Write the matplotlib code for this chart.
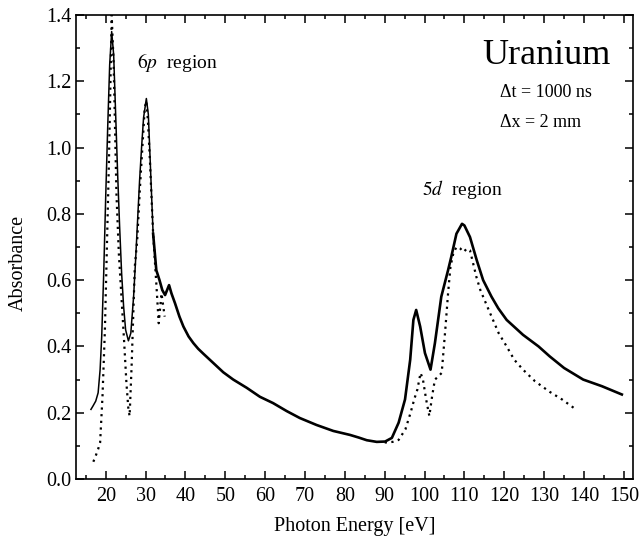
import matplotlib
matplotlib.use("Agg")
import matplotlib.pyplot as plt
from matplotlib.ticker import MultipleLocator

plt.rcParams['font.family'] = ['Liberation Serif', 'DejaVu Serif']
plt.rcParams['mathtext.fontset'] = 'stix'

# Solid curve (measured absorbance)
solid_x = [16.3, 16.8, 17.5, 18.1, 18.6, 19.0, 19.5, 20.0, 20.5, 21.0, 21.5, 22.0, 22.5, 23.0, 23.5,
           24.0, 24.5, 25.0, 25.7, 26.3, 27.0, 27.5, 28.0, 28.5, 29.0, 29.5, 30.2, 30.7, 31.2, 31.9,
           32.7, 33.5, 34.2, 34.9, 35.4, 35.9, 36.5, 37.4, 38.5, 39.5, 40.8, 42.0, 43.2, 44.5, 47.0, 49.5,
           52.0, 55.4, 58.7, 62.0, 65.4, 68.7, 72.9, 77.1, 81.3, 83.5, 85.5, 88.0, 90.1, 91.8, 93.5,
           95.1, 96.4, 97.2, 97.9, 98.9, 100.1, 101.5, 102.6, 104.2, 105.9, 106.7, 108.0, 109.4, 110.0,
           111.4, 113.1, 114.7, 116.8, 118.5, 120.6, 124.7, 128.6, 131.4, 135.0, 139.8, 144.5, 149.5]
solid_y = [0.21, 0.22, 0.235, 0.26, 0.33, 0.43, 0.62, 0.85, 1.06, 1.25, 1.35, 1.28, 1.10, 0.92, 0.76,
           0.62, 0.52, 0.45, 0.417, 0.44, 0.55, 0.66, 0.78, 0.90, 1.00, 1.09, 1.148, 1.10, 0.95, 0.74,
           0.63, 0.60, 0.57, 0.555, 0.57, 0.585, 0.56, 0.53, 0.49, 0.46, 0.43, 0.41, 0.393, 0.378, 0.35, 0.322,
           0.30, 0.275, 0.248, 0.229, 0.205, 0.184, 0.163, 0.145, 0.133, 0.125, 0.117, 0.112, 0.113, 0.124, 0.17,
           0.24, 0.36, 0.48, 0.51, 0.46, 0.38, 0.33, 0.41, 0.55, 0.63, 0.67, 0.74, 0.77, 0.765,
           0.73, 0.66, 0.60, 0.55, 0.515, 0.48, 0.435, 0.40, 0.37, 0.335, 0.30, 0.28, 0.255]

# Dotted curve, 6p region
dot6p_x = [16.9, 17.5, 18.1, 18.6, 19.2, 19.8, 20.3, 20.8, 21.2, 21.5, 22.0, 22.7, 23.3, 24.0, 24.6,
           25.2, 25.7, 26.0, 26.5, 27.3, 27.9, 28.6, 29.3, 29.8, 30.2, 30.6, 31.1, 31.9, 32.7, 33.3,
           34.0, 34.8]
dot6p_y = [0.052, 0.07, 0.09, 0.11, 0.25, 0.45, 0.70, 0.95, 1.20, 1.40, 1.25, 0.86, 0.68, 0.54, 0.42,
           0.29, 0.21, 0.19, 0.34, 0.64, 0.72, 0.88, 1.02, 1.12, 1.14, 1.08, 0.96, 0.74, 0.59, 0.47,
           0.56, 0.49]

# Dotted curve, 5d region
dot5d_x = [90.0, 92.0, 93.5, 95.2, 96.5, 97.4, 98.2, 99.0, 99.6, 100.4, 101.2, 101.9, 102.6, 103.5,
           104.3, 105.2, 105.9, 106.5, 107.2, 108.0, 109.0, 109.8, 110.6, 111.4, 112.2, 113.0, 114.0,
           116.1, 118.6, 120.6, 122.5, 124.7, 127.7, 131.4, 134.5, 137.5]
dot5d_y = [0.11, 0.112, 0.118, 0.15, 0.20, 0.24, 0.27, 0.32, 0.30, 0.24, 0.19, 0.25, 0.30, 0.31,
           0.32, 0.45, 0.56, 0.64, 0.68, 0.70, 0.695, 0.685, 0.695, 0.69, 0.65, 0.61, 0.57,
           0.51, 0.44, 0.40, 0.36, 0.33, 0.295, 0.263, 0.24, 0.214]

xticks = [20, 30, 40, 50, 60, 70, 80, 90, 100, 110, 120, 130, 140, 150]
yticks = [0.0, 0.2, 0.4, 0.6, 0.8, 1.0, 1.2, 1.4]

fig = plt.figure(figsize=(6.39, 5.44), dpi=100)
ax = fig.add_axes([76/639, 1-479/544, (633-76)/639, (479-15)/544])

# thin clean part of the spectrum (6p peaks) and thicker noisy remainder
split = solid_x.index(31.9)
ax.plot(solid_x[:split + 1], solid_y[:split + 1], color='black', lw=1.1, solid_joinstyle='round')
ax.plot(solid_x[split:], solid_y[split:], color='black', lw=1.9, solid_joinstyle='round')
ax.plot(dot6p_x, dot6p_y, color='black', lw=1.6, linestyle=(0, (1, 2)))
ax.plot(dot5d_x, dot5d_y, color='black', lw=1.6, linestyle=(0, (1, 2)))

ax.set_xlim(12.55, 152.3)
ax.set_ylim(0.0, 1.4)
ax.set_xticks(xticks)
ax.set_xticklabels([str(t) for t in xticks])
ax.set_yticks(yticks)
ax.set_yticklabels([f"{t:.1f}" for t in yticks])
ax.xaxis.set_minor_locator(MultipleLocator(5))
ax.yaxis.set_minor_locator(MultipleLocator(0.1))
ax.tick_params(which='both', direction='in', top=True, right=True, labelsize=14.5, width=1.1)
ax.tick_params(which='major', length=6)
ax.tick_params(which='minor', length=3)
ax.tick_params(axis='x', pad=6)
for s in ax.spines.values():
    s.set_linewidth(1.2)

ax.set_xlabel('Photon Energy [eV]', fontsize=14.5, labelpad=8)
ax.set_ylabel('Absorbance', fontsize=14.5)
ax.yaxis.set_label_coords(-0.086, 0.466)

ax.text(130.7, 1.279, 'Uranium', fontsize=26, ha='center', va='center')
ax.text(119.0, 1.167, '\u0394t = 1000 ns', fontsize=13, ha='left', va='center')
ax.text(119.0, 1.077, '\u0394x = 2 mm', fontsize=13, ha='left', va='center')
ax.text(27.9, 1.258, r'$\mathit{6p}$  region', fontsize=14, ha='left', va='center')
ax.text(99.4, 0.872, r'$\mathit{5d}$  region', fontsize=14, ha='left', va='center')

fig.savefig('out.png', dpi=100)
